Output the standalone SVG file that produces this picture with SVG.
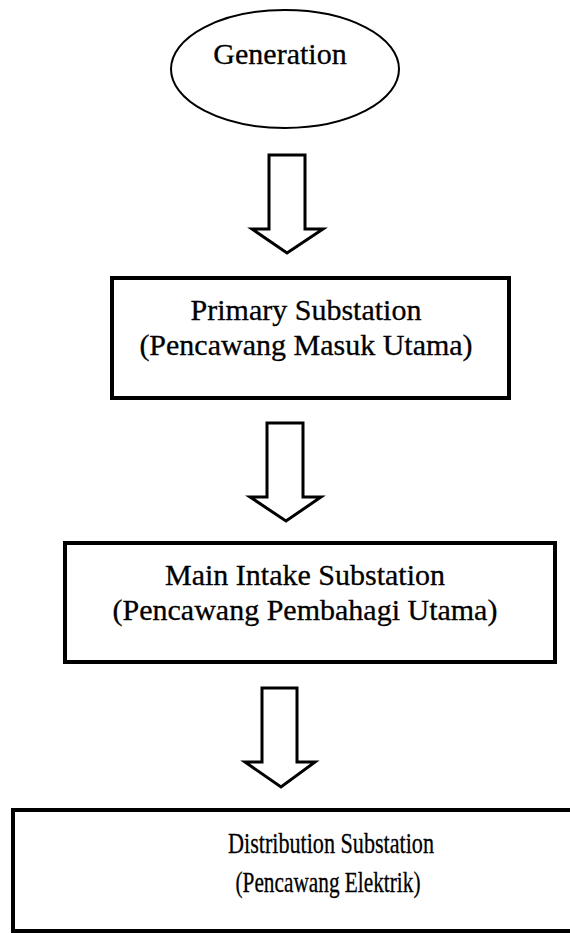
<svg xmlns="http://www.w3.org/2000/svg" width="570" height="933" viewBox="0 0 570 933">
<style>
.box{fill:#fff;stroke:#000;stroke-width:4}
.ell{fill:#fff;stroke:#000;stroke-width:2}
.arrow{fill:#fff;stroke:#000;stroke-width:3;stroke-linejoin:miter}
text{font-family:"Liberation Serif","Times New Roman",serif;font-size:30px;fill:#000;stroke:#000;stroke-width:0.3;text-anchor:middle}
</style>
<rect width="570" height="933" fill="#fff"/>
<g id="connectors">
<polygon class="arrow" points="269,155 305,155 305,229 323,229 287,253 252,229 269,229"/>
<polygon class="arrow" points="267,423 303,423 303,497 321,497 286,521 250,497 267,497"/>
<polygon class="arrow" points="262,688 297,688 297,762 315,762 281,787 245,762 262,762"/>
</g>
<g id="generation">
<ellipse class="ell" cx="285" cy="69" rx="114" ry="59"/>
<text x="280" y="64">Generation</text>
</g>
<g id="primary">
<rect class="box" x="112" y="278" width="397" height="120"/>
<text x="306" y="320">Primary Substation</text>
<text x="306" y="355">(Pencawang Masuk Utama)</text>
</g>
<g id="main-intake">
<rect class="box" x="65" y="543" width="490" height="119"/>
<text x="305" y="585">Main Intake Substation</text>
<text x="305" y="620">(Pencawang Pembahagi Utama)</text>
</g>
<g id="distribution">
<rect class="box" x="13" y="810" width="570" height="121"/>
<text x="331" y="853" textLength="206" lengthAdjust="spacingAndGlyphs">Distribution Substation</text>
<text x="328" y="892" textLength="185" lengthAdjust="spacingAndGlyphs">(Pencawang Elektrik)</text>
</g>
</svg>
